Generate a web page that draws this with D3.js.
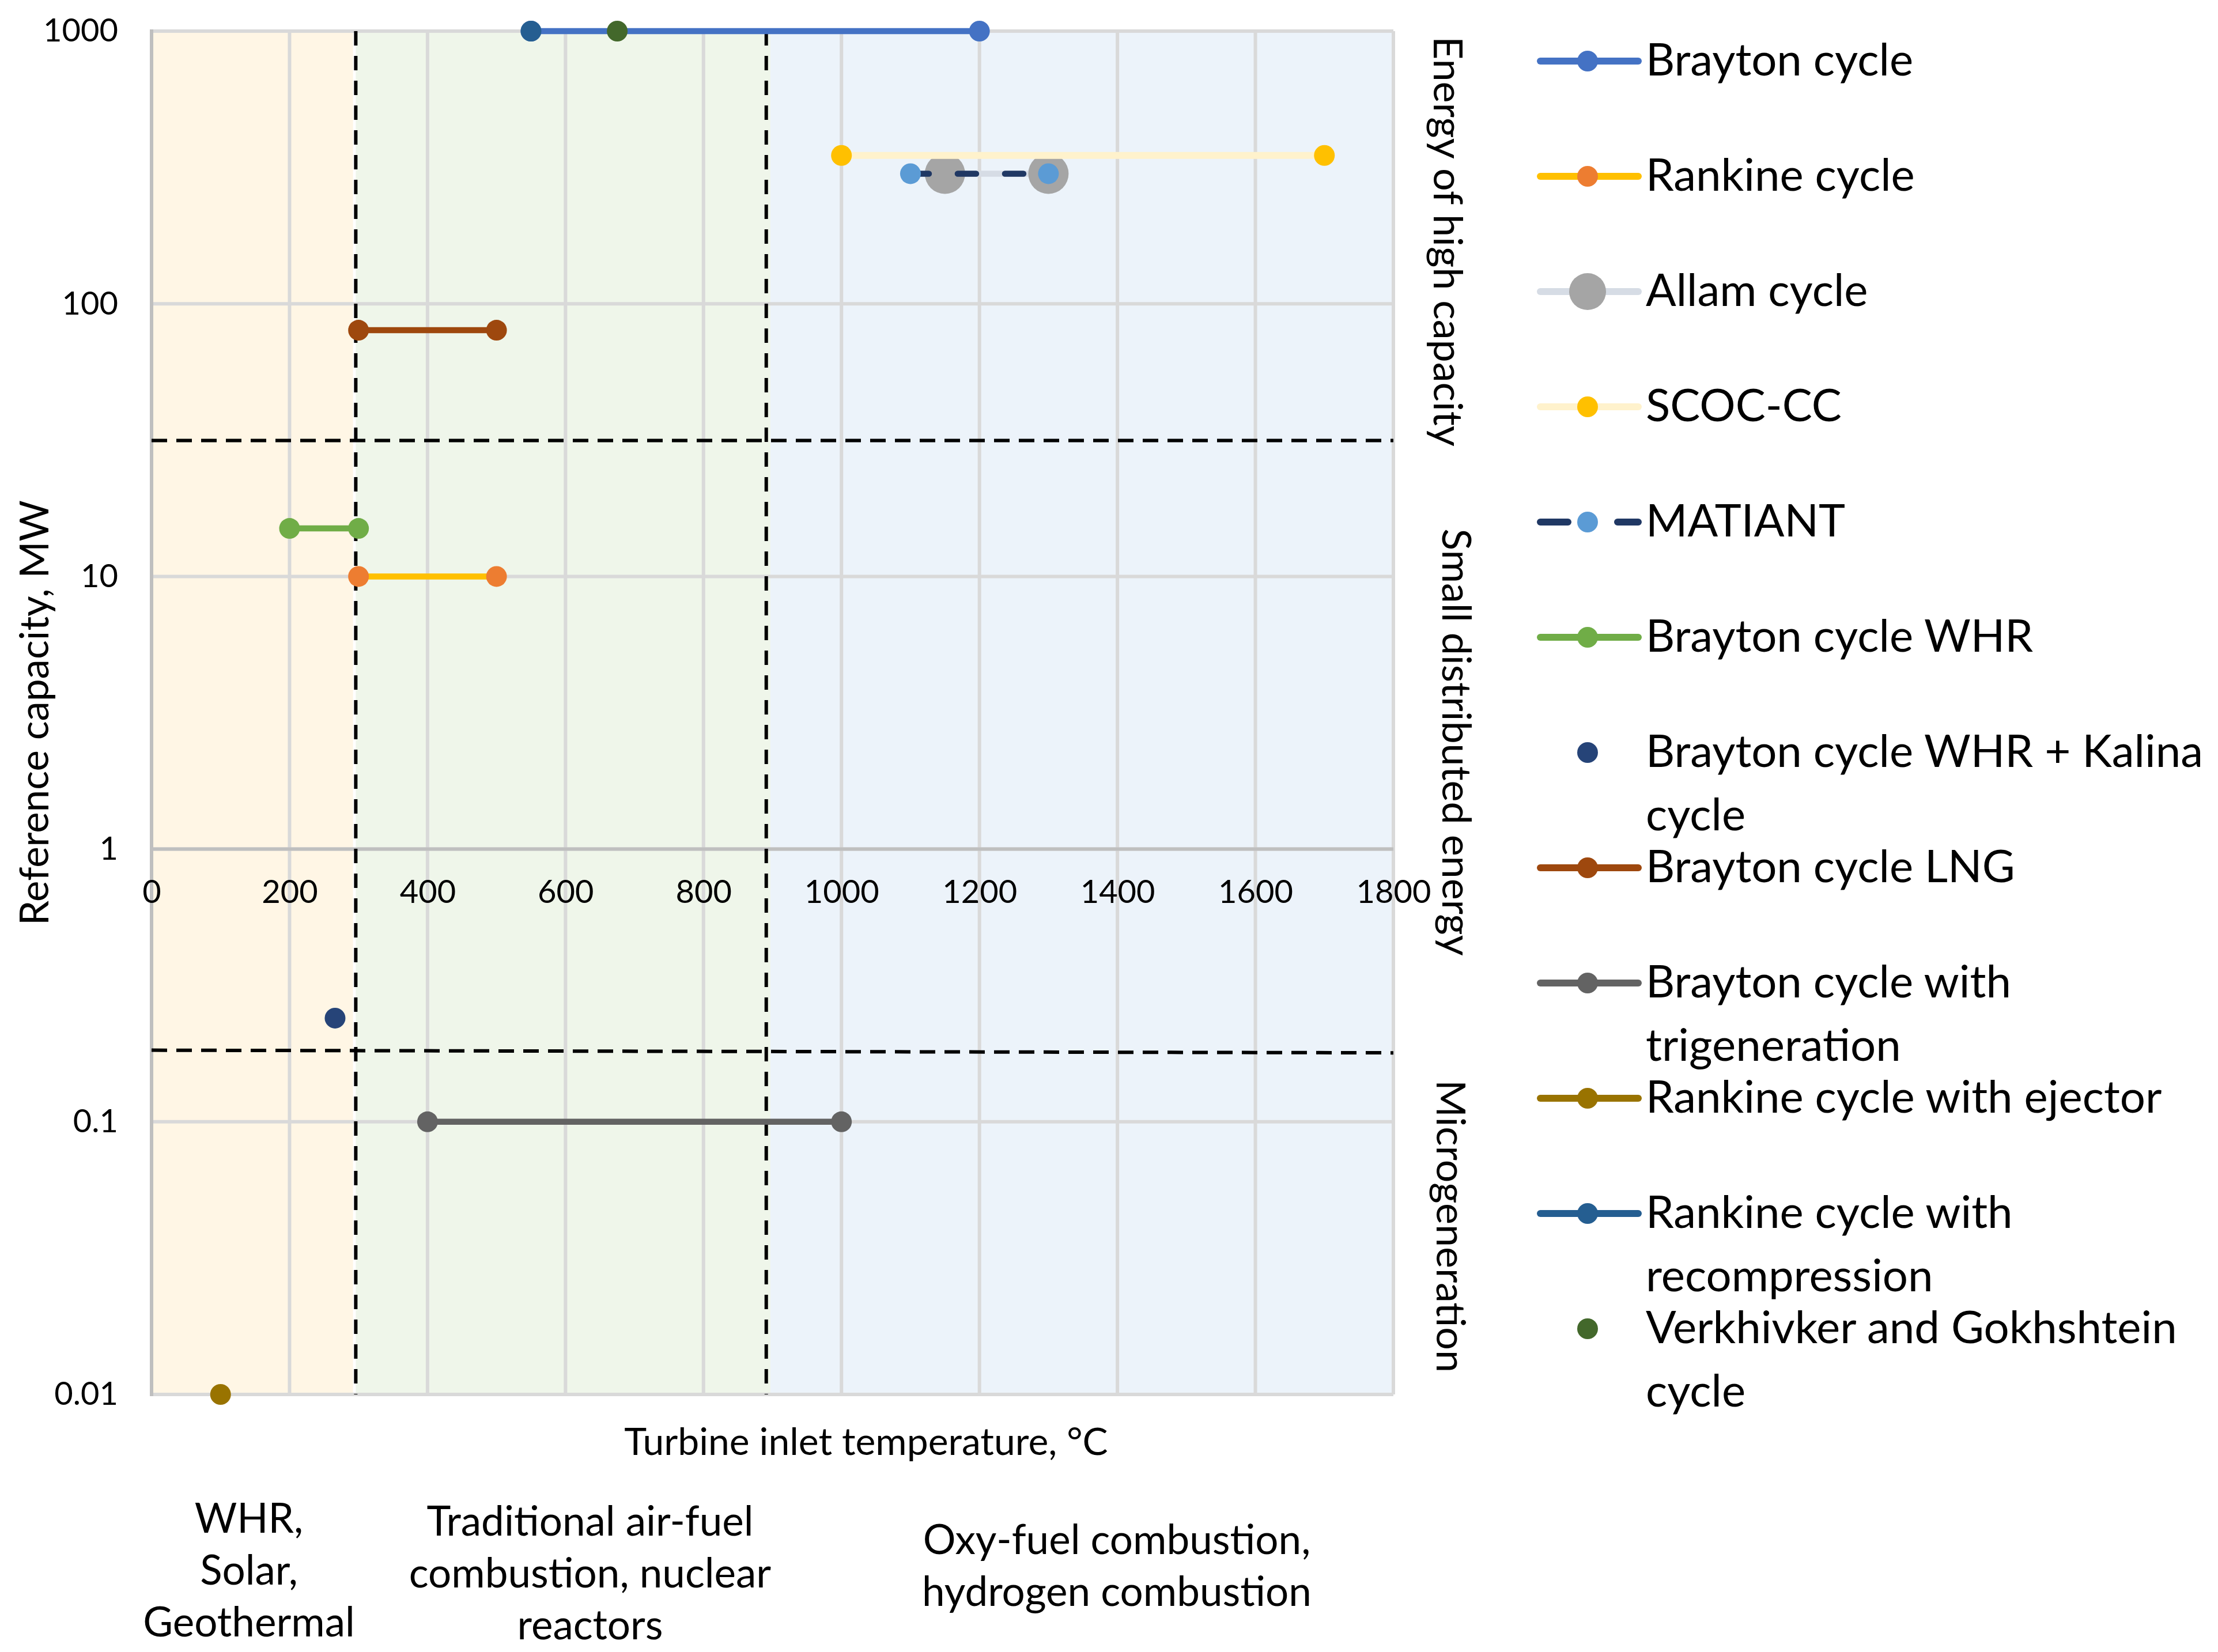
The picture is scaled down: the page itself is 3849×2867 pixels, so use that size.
<!DOCTYPE html>
<html>
<head>
<meta charset="utf-8">
<script src="https://cdn.jsdelivr.net/npm/d3@7"></script>
<style>
  body { margin: 0; background: #fff; }
  text { font-family: Lato, "Open Sans", sans-serif; fill: #000; }
</style>
</head>
<body>
<div id="chart"></div>
<script>
const width = 3849;
const height = 2867;

// axis ticks
const xTicks = [0, 200, 400, 600, 800, 1000, 1200, 1400, 1600, 1800];
const yTicks = [0.01, 0.1, 1, 10, 100, 1000];
const yTickLabels = ["0.01", "0.1", "1", "10", "100", "1000"];

// series: [temperature °C, capacity MW]
const seriesNames = [
    "Brayton cycle", "Rankine cycle", "Allam cycle", "SCOC-CC", "MATIANT",
    "Brayton cycle WHR", "Brayton cycle WHR + Kalina cycle", "Brayton cycle LNG",
    "Brayton cycle with trigeneration", "Rankine cycle with ejector",
    "Rankine cycle with recompression", "Verkhivker and Gokhshtein cycle"
];
const seriesPoints = [
    [[550, 1000], [1200, 1000]],
    [[300, 10], [500, 10]],
    [[1150, 300], [1300, 300]],
    [[1000, 350], [1700, 350]],
    [[1100, 300], [1300, 300]],
    [[200, 15], [300, 15]],
    [[266, 0.24]],
    [[300, 80], [500, 80]],
    [[400, 0.1], [1000, 0.1]],
    [[100, 0.01]],
    [[550, 1000]],
    [[675, 1000]]
];
const lineColors = ["#4472C4", "#FFC000", "#D6DCE5", "#FFF2CC", "#203864", "#70AD47",
    null, "#9E480E", "#636363", "#997300", "#255E91", null];
const markerColors = ["#4472C4", "#ED7D31", "#A5A5A5", "#FFC000", "#5B9BD5", "#70AD47",
    "#264478", "#9E480E", "#636363", "#997300", "#255E91", "#43682B"];
const legendLines = [
    ["Brayton cycle"], ["Rankine cycle"], ["Allam cycle"], ["SCOC-CC"], ["MATIANT"],
    ["Brayton cycle WHR"], ["Brayton cycle WHR + Kalina", "cycle"], ["Brayton cycle LNG"],
    ["Brayton cycle with", "trigeneration"], ["Rankine cycle with ejector"],
    ["Rankine cycle with", "recompression"], ["Verkhivker and Gokhshtein", "cycle"]
];

// application zones along temperature, capacity class limits
const zoneRanges = [[0, 292], [296, 897], [897, 1800]];
const zoneColors = ["#FFF6E5", "#EFF6EA", "#ECF3FA"];
const zoneLabels = [
    ["WHR,", "Solar,", "Geothermal"],
    ["Traditional air-fuel", "combustion, nuclear", "reactors"],
    ["Oxy-fuel combustion,", "hydrogen combustion"]
];
const tempLimits = [296, 891];
const capacityLimits = [[[0, 31.5], [1800, 31.5]], [[0, 0.183], [1800, 0.179]]];
const capacityLabels = ["Energy of high capacity", "Small distributed energy", "Microgeneration"];

const svg = d3.select("#chart")
    .append("svg")
    .attr("width", width)
    .attr("height", height);

const x = d3.scaleLinear().domain([0, 1800]).range([263, 2418]);
const y = d3.scaleLog().domain([0.01, 1000]).range([2420, 54]);

// background zones
svg.append("g").selectAll("rect")
    .data(zoneRanges)
    .enter().append("rect")
    .attr("x", d => x(d[0]))
    .attr("width", d => x(d[1]) - x(d[0]))
    .attr("y", y(1000))
    .attr("height", y(0.01) - y(1000))
    .attr("fill", (d, i) => zoneColors[i]);

// gridlines
const grid = svg.append("g").attr("stroke", "#D9D9D9").attr("stroke-width", 6);
grid.selectAll(".gx").data(xTicks).enter().append("line")
    .attr("x1", d => x(d)).attr("x2", d => x(d))
    .attr("y1", y(1000)).attr("y2", y(0.01));
grid.selectAll(".gy").data(yTicks).enter().append("line")
    .attr("x1", x(0)).attr("x2", x(1800))
    .attr("y1", d => y(d)).attr("y2", d => y(d));

// axis lines
svg.append("line")
    .attr("x1", x(0)).attr("x2", x(0)).attr("y1", y(1000) - 3).attr("y2", y(0.01) + 3)
    .attr("stroke", "#BFBFBF").attr("stroke-width", 6);
svg.append("line")
    .attr("x1", x(0)).attr("x2", x(1800)).attr("y1", y(1)).attr("y2", y(1))
    .attr("stroke", "#BFBFBF").attr("stroke-width", 6);

// zone separators
svg.append("g").selectAll("line")
    .data(tempLimits)
    .enter().append("line")
    .attr("x1", d => x(d)).attr("x2", d => x(d))
    .attr("y1", y(1000)).attr("y2", y(0.01))
    .attr("stroke", "#000").attr("stroke-width", 6)
    .attr("stroke-dasharray", "25,18");
svg.append("g").selectAll("line")
    .data(capacityLimits)
    .enter().append("line")
    .attr("x1", d => x(d[0][0])).attr("x2", d => x(d[1][0]))
    .attr("y1", d => y(d[0][1])).attr("y2", d => y(d[1][1]))
    .attr("stroke", "#000").attr("stroke-width", 6)
    .attr("stroke-dasharray", "27,16");

// series
const line = d3.line().x(d => x(d[0])).y(d => y(d[1]));
const markerR = i => i === 2 ? 35 : 18;

seriesPoints.forEach((pts, i) => {
    const g = svg.append("g");
    if (lineColors[i] && pts.length > 1) {
        g.append("path")
            .attr("d", line(pts))
            .attr("fill", "none")
            .attr("stroke", lineColors[i])
            .attr("stroke-width", i === 3 ? 12 : 10.5)
            .attr("stroke-linecap", "round")
            .attr("stroke-dasharray", i === 4 ? "32,50" : null);
    }
    g.selectAll("circle")
        .data(pts)
        .enter().append("circle")
        .attr("cx", d => x(d[0]))
        .attr("cy", d => y(d[1]))
        .attr("r", markerR(i))
        .attr("fill", markerColors[i]);
});

// tick labels
const yAxis = svg.append("g")
    .attr("transform", `translate(${x(0)},0)`)
    .call(d3.axisLeft(y).tickValues(yTicks).tickFormat((d, i) => yTickLabels[i]).tickSize(0).tickPadding(58));
const xAxis = svg.append("g")
    .attr("transform", `translate(0,${y(1)})`)
    .call(d3.axisBottom(x).tickValues(xTicks).tickFormat(d3.format("d")).tickSize(0).tickPadding(54));
[yAxis, xAxis].forEach(a => {
    a.select(".domain").remove();
    a.selectAll("text")
        .style("font-family", "Lato, sans-serif")
        .style("font-size", "56px")
        .attr("fill", "#000");
});

// axis titles
svg.append("text")
    .attr("x", 1503).attr("y", 2525)
    .attr("text-anchor", "middle")
    .style("font-size", "66px")
    .text("Turbine inlet temperature, °C");
svg.append("text")
    .attr("transform", `translate(84,${(y(1000) + y(0.01)) / 2}) rotate(-90)`)
    .attr("text-anchor", "middle")
    .style("font-size", "69px")
    .text("Reference capacity, MW");

// zone labels under the axis
const zoneLabelX = [432, 1024, 1938];
const zoneLabelY = [2660, 2665, 2697];
zoneLabels.forEach((lines, i) => {
    const t = svg.append("text")
        .attr("text-anchor", "middle")
        .style("font-size", "71px");
    t.selectAll("tspan")
        .data(lines)
        .enter().append("tspan")
        .attr("x", zoneLabelX[i])
        .attr("y", (d, j) => zoneLabelY[i] + j * 90)
        .text(d => d);
});

// capacity class labels on the right side
const capLabelX = [2488, 2503, 2493];
const capLabelY = [419, 1288, 2128];
capacityLabels.forEach((lab, i) => {
    svg.append("text")
        .attr("transform", `translate(${capLabelX[i]},${capLabelY[i]}) rotate(90)`)
        .attr("text-anchor", "middle")
        .style("font-size", "70px")
        .text(lab);
});

// legend
const legend = svg.append("g").attr("transform", "translate(2673,106)");
legendLines.forEach((lines, i) => {
    const item = legend.append("g").attr("transform", `translate(0,${i * 200})`);
    if (lineColors[i]) {
        item.append("line")
            .attr("x1", 0).attr("x2", 170)
            .attr("stroke", lineColors[i])
            .attr("stroke-width", 12)
            .attr("stroke-linecap", "round")
            .attr("stroke-dasharray", i === 4 ? "48,86" : null);
    }
    item.append("circle")
        .attr("cx", 82)
        .attr("r", markerR(i) === 35 ? 32 : 18)
        .attr("fill", markerColors[i]);
    const t = item.append("text").style("font-size", "78px");
    t.selectAll("tspan")
        .data(lines)
        .enter().append("tspan")
        .attr("x", 183)
        .attr("y", (d, j) => 25 + j * 110)
        .text(d => d);
});
</script>
</body>
</html>
